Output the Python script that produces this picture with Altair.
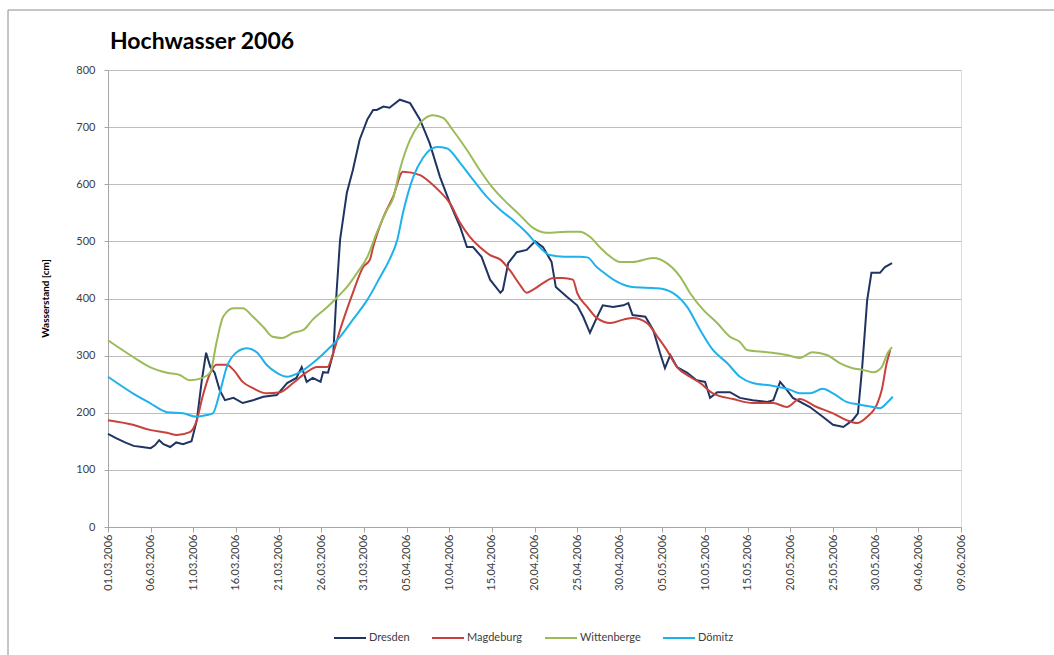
import altair as alt
import pandas as pd

# Pegelstände der Elbe, Frühjahr 2006 (Tage ab 01.03.2006, Wasserstand in cm)
START = "2006-03-01"
TITLE = "Hochwasser 2006"

dresden_day = [0, 1, 2, 3, 4, 5, 5.5, 6, 6.5, 7.3, 8, 8.8, 9.8, 10.4, 11, 11.5, 12, 12.5,
               13.1, 13.7, 14.7, 15.8, 17, 18.2, 19.8, 21, 22.1, 22.7, 23.3, 24, 24.9, 25.2,
               25.8, 26.4, 26.8, 27.2, 28, 28.7, 29.5, 30.4, 31.1, 31.5, 32.3, 33, 34.2, 35.4,
               36.6, 37.7, 38.9, 40.1, 41.3, 42.1, 42.8, 43.8, 44.8, 46, 46.3, 46.9, 47.9, 49.1,
               50.1, 51, 52, 52.5, 53.8, 55, 55.7, 56.5, 57.3, 58, 59.2, 60.4, 61, 61.5, 63,
               63.9, 64.7, 65.3, 65.9, 66.7, 67.9, 69, 70, 70.6, 71.4, 72.9, 74.1, 75.6, 77.3,
               78, 78.8, 79.6, 80.3, 82.3, 83.8, 85, 86.2, 87.3, 87.9, 88.4, 89, 89.5, 90.5,
               91.1, 91.9]
dresden_cm = [163, 155, 148, 142, 140, 138, 143, 152, 145, 140, 148, 145, 150, 187, 257, 305,
              280, 270, 240, 222, 226, 217, 222, 228, 231, 252, 261, 280, 254, 261, 254, 271,
              270, 305, 410, 503, 585, 625, 678, 714, 730, 730, 736, 734, 748, 742, 713, 672,
              613, 567, 525, 490, 490, 473, 433, 410, 415, 462, 481, 485, 500, 490, 464, 420,
              403, 388, 368, 340, 366, 388, 385, 388, 392, 371, 368, 345, 305, 278, 301, 280,
              270, 257, 254, 226, 236, 236, 226, 222, 219, 222, 254, 240, 226, 210, 193, 179,
              175, 187, 199, 280, 397, 445, 445, 455, 462]

magdeburg_day = [0, 2.9, 4.9, 6.9, 8.1, 9.6, 10.4, 11.1, 12, 12.7, 13.9, 14.7, 15.8, 17, 18.6,
                 20.2, 21.7, 23.3, 24.5, 25.7, 26.4, 27.2, 28.7, 29.9, 30.7, 31.1, 32.3, 33.4,
                 34.6, 36.6, 37.7, 38.9, 40.1, 41.3, 42.4, 43.6, 44.8, 46, 47.1, 48.3, 49.1,
                 49.8, 51, 52.2, 53.3, 54.5, 55, 56.2, 57.3, 58.9, 60.4, 61.5, 63.2, 64.4, 65.5,
                 66.7, 68.2, 69.4, 70.9, 73.3, 75.6, 78, 79.6, 81.1, 83.1, 85, 86.6, 87.8, 89,
                 90.2, 90.7, 91.3, 91.7]
magdeburg_cm = [187, 179, 170, 165, 161, 166, 187, 228, 270, 284, 284, 275, 254, 243, 234, 236,
                252, 271, 280, 280, 305, 345, 410, 455, 468, 490, 543, 578, 622, 616, 604, 587,
                567, 532, 508, 490, 476, 468, 450, 424, 410, 415, 427, 436, 436, 433, 410, 385,
                366, 357, 363, 366, 357, 333, 310, 280, 263, 252, 234, 224, 217, 217, 210, 224,
                210, 199, 187, 182, 193, 217, 240, 287, 310]

wittenberge_day = [0, 2.9, 4.9, 6.9, 8.4, 9.6, 11.1, 12, 12.7, 13.5, 14.7, 15.8, 17, 18.2, 19.3,
                   20.4, 21.7, 22.9, 24, 25.7, 26.8, 28, 29.2, 30.4, 31.5, 32.7, 33.4, 34.2,
                   35.4, 36.6, 38.1, 39.3, 40.4, 42.1, 43.6, 45.1, 46.8, 48.3, 49.8, 51.5, 53.8,
                   55.3, 56.5, 57.7, 58.5, 60, 61.5, 63.9, 65.5, 67.1, 68.2, 69.8, 71.4, 72.9,
                   74.1, 74.9, 77.3, 79.6, 81.1, 82.6, 84.3, 85.8, 87.3, 88.5, 89.7, 90.7, 91.4,
                   91.9]
wittenberge_cm = [327, 298, 280, 270, 266, 257, 261, 271, 322, 368, 383, 383, 368, 350, 333, 331,
                  340, 345, 363, 385, 401, 420, 445, 473, 515, 555, 575, 625, 678, 707, 721, 716,
                  695, 660, 625, 594, 567, 546, 524, 515, 517, 517, 508, 489, 478, 464, 464, 471,
                  462, 438, 410, 380, 357, 333, 324, 310, 306, 301, 296, 306, 301, 287, 278, 275,
                  271, 280, 305, 315]

doemitz_day = [0, 2.9, 4.9, 6.9, 8.8, 10.4, 11.6, 12.3, 13.1, 13.9, 15.1, 16.3, 17.5, 18.6,
               19.8, 21, 22.5, 24, 25.7, 27.2, 28.7, 30.4, 31.9, 33, 33.9, 34.6, 35.8, 36.9,
               38.6, 39.7, 41.3, 42.8, 44.4, 46, 47.5, 49.1, 50.6, 51.8, 53.5, 55.3, 56.2,
               57.3, 57.7, 59.7, 61.5, 64.4, 66.2, 67.9, 69.4, 70.9, 72.6, 74.1, 75.6, 78, 80,
               81.1, 82.3, 83.8, 85, 86.6, 88.2, 89.7, 90.5, 91.3, 92]
doemitz_cm = [263, 234, 217, 201, 199, 193, 196, 199, 234, 280, 306, 313, 305, 284, 270, 263,
              271, 287, 310, 333, 363, 398, 438, 468, 503, 550, 613, 646, 665, 663, 637, 608,
              578, 555, 537, 515, 490, 476, 473, 473, 472, 455, 450, 429, 420, 418, 410, 385,
              345, 310, 287, 263, 252, 247, 240, 234, 234, 242, 234, 219, 214, 210, 208, 217,
              228]

stations = ["Dresden", "Magdeburg", "Wittenberge", "Dömitz"]
colors = ["#1F3461", "#C8413C", "#9BBB59", "#1EB2EC"]
tick_dates = ["01.03.2006", "06.03.2006", "11.03.2006", "16.03.2006", "21.03.2006",
              "26.03.2006", "31.03.2006", "05.04.2006", "10.04.2006", "15.04.2006",
              "20.04.2006", "25.04.2006", "30.04.2006", "05.05.2006", "10.05.2006",
              "15.05.2006", "20.05.2006", "25.05.2006", "30.05.2006", "04.06.2006",
              "09.06.2006"]

series = {
    "Dresden": (dresden_day, dresden_cm),
    "Magdeburg": (magdeburg_day, magdeburg_cm),
    "Wittenberge": (wittenberge_day, wittenberge_cm),
    "Dömitz": (doemitz_day, doemitz_cm),
}

rows = []
t0 = pd.Timestamp(START)
for order, name in enumerate(stations):
    days, vals = series[name]
    for d, v in zip(days, vals):
        ts = t0 + pd.Timedelta(hours=round(d * 24))
        rows.append({"Datum": ts.strftime("%Y-%m-%dT%H:%M:%S"), "Pegel": name,
                     "Wasserstand": v, "order": order})
df = pd.DataFrame(rows)


def to_dt(s):
    d, m, y = (int(p) for p in s.split("."))
    return alt.DateTime(year=y, month=m, date=d)


tick_values = [to_dt(s) for s in tick_dates]

FONT = "Lato"
AXIS_GREY = "#A6A6A6"
TEXT_GREY = "#404040"

x_enc = alt.X(
    "Datum:T",
    scale=alt.Scale(domain=[tick_values[0], tick_values[-1]]),
    axis=alt.Axis(
        values=tick_values, format="%d.%m.%Y", labelAngle=270, title=None,
        grid=False, domainColor=AXIS_GREY, tickColor=AXIS_GREY, tickSize=5,
        labelFont=FONT, labelFontSize=11, labelColor=TEXT_GREY, labelPadding=2,
        labelOverlap=False, labelFlush=False,
    ),
)
y_enc = alt.Y(
    "Wasserstand:Q",
    scale=alt.Scale(domain=[0, 800], nice=False),
    axis=alt.Axis(
        values=list(range(0, 801, 100)), title="Wasserstand [cm]",
        titleFont=FONT, titleFontSize=10, titleFontWeight="bold", titleColor="#000000",
        titleX=-63, titleY=228, titleAngle=270, titleAlign="center",
        titleBaseline="middle",
        grid=True, gridColor="#BDBDBD", gridWidth=1,
        domainColor=AXIS_GREY, tickColor=AXIS_GREY, tickSize=4,
        labelFont=FONT, labelFontSize=11, labelColor=TEXT_GREY, labelPadding=9,
    ),
)
color_enc = alt.Color(
    "Pegel:N",
    scale=alt.Scale(domain=stations, range=colors),
    legend=alt.Legend(
        title=None, orient="none", direction="horizontal", legendX=225, legendY=551,
        symbolType="stroke", symbolSize=1024, symbolStrokeWidth=2,
        labelFont=FONT, labelFontSize=11, labelColor=TEXT_GREY, columnPadding=18,
        labelOffset=2,
    ),
)

base = alt.Chart(df).encode(x=x_enc, y=y_enc, color=color_enc, order=alt.Order("order:Q"))

# Dresden schwankt stark -> lineare Verbindung; die übrigen Pegel glatt
dresden_line = base.mark_line(strokeWidth=2).transform_filter(
    alt.datum.Pegel == "Dresden"
)
other_lines = base.mark_line(strokeWidth=2, interpolate="monotone").transform_filter(
    alt.datum.Pegel != "Dresden"
)

title_df = pd.DataFrame({"t": [TITLE]})
title_text = alt.Chart(title_df).mark_text(
    align="left", baseline="alphabetic", font=FONT, fontSize=23, fontWeight="bold",
    color="#000000",
).encode(x=alt.value(2), y=alt.value(-21), text="t:N")

# Rahmen um das gesamte Diagramm (links und oben)
frame_left = alt.Chart(title_df).mark_rule(color="#8C8C8C", strokeWidth=1).encode(
    x=alt.value(-100), y=alt.value(-60), y2=alt.value(600)
)
frame_top = alt.Chart(title_df).mark_rule(color="#8C8C8C", strokeWidth=1).encode(
    x=alt.value(-100), x2=alt.value(960), y=alt.value(-60)
)

chart = alt.layer(frame_left, frame_top, title_text, dresden_line, other_lines).properties(
    width=853,
    height=457,
    autosize=alt.AutoSizeParams(type="none"),
    padding={"left": 108, "top": 70, "right": 93, "bottom": 128},
).configure_view(stroke=None).configure(background="white")

chart.save("out.html", embed_options={"renderer": "svg", "actions": False})
